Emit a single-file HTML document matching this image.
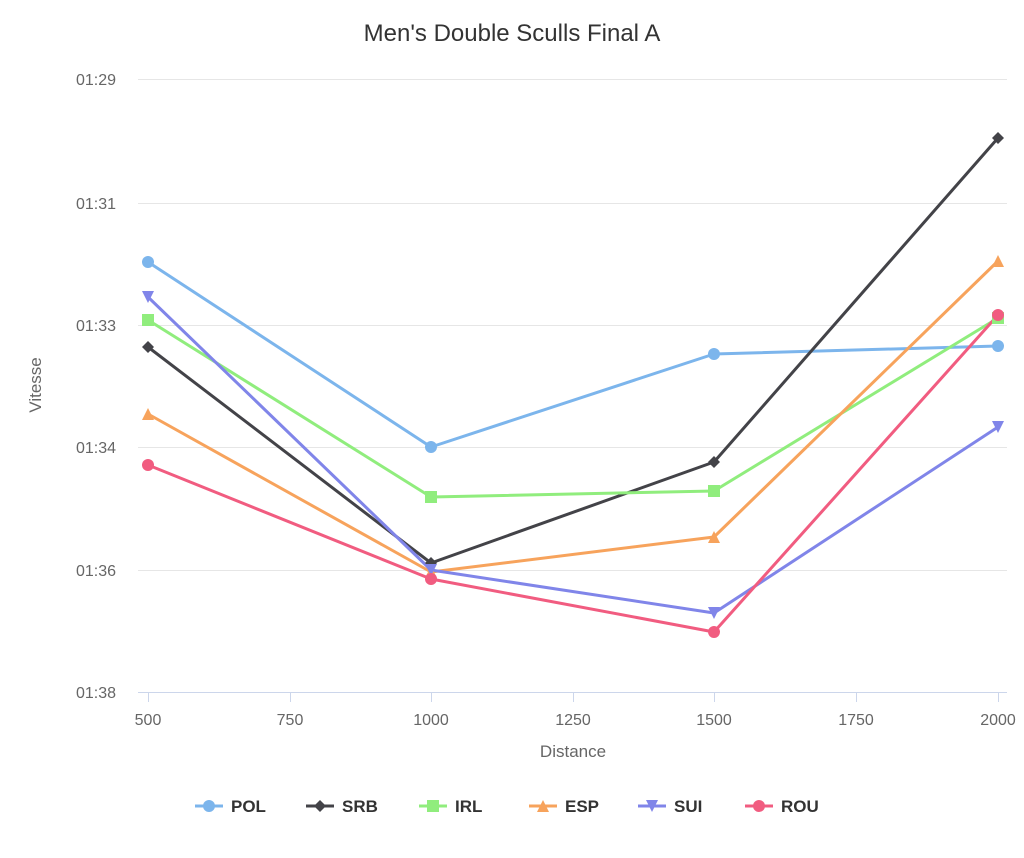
<!DOCTYPE html>
<html><head><meta charset="utf-8"><style>
html,body{margin:0;padding:0;background:#fff;}
text{font-family:"Liberation Sans","DejaVu Sans",sans-serif;}
</style></head><body>
<svg width="1024" height="853" xmlns="http://www.w3.org/2000/svg">
<rect width="1024" height="853" fill="#fff"/>
<text x="512" y="41" text-anchor="middle" font-size="24" fill="#333">Men's Double Sculls Final A</text>
<g stroke="#e6e6e6" stroke-width="1">
<line x1="138" x2="1007" y1="79.5" y2="79.5"/>
<line x1="138" x2="1007" y1="203.5" y2="203.5"/>
<line x1="138" x2="1007" y1="325.5" y2="325.5"/>
<line x1="138" x2="1007" y1="447.5" y2="447.5"/>
<line x1="138" x2="1007" y1="570.5" y2="570.5"/>
</g>
<line x1="138" x2="1007" y1="692.5" y2="692.5" stroke="#ccd6eb"/>
<g stroke="#ccd6eb">
<line x1="148.5" x2="148.5" y1="692" y2="702"/><line x1="290.5" x2="290.5" y1="692" y2="702"/>
<line x1="431.5" x2="431.5" y1="692" y2="702"/><line x1="573.5" x2="573.5" y1="692" y2="702"/>
<line x1="714.5" x2="714.5" y1="692" y2="702"/><line x1="856.5" x2="856.5" y1="692" y2="702"/>
<line x1="998.5" x2="998.5" y1="692" y2="702"/>
</g>
<g font-size="16" fill="#666" text-anchor="end">
<text x="116" y="85">01:29</text><text x="116" y="209">01:31</text><text x="116" y="331">01:33</text>
<text x="116" y="453">01:34</text><text x="116" y="576">01:36</text><text x="116" y="698">01:38</text>
</g>
<g font-size="16" fill="#666" text-anchor="middle">
<text x="148" y="725">500</text><text x="290" y="725">750</text><text x="431" y="725">1000</text>
<text x="573" y="725">1250</text><text x="714" y="725">1500</text><text x="856" y="725">1750</text><text x="998" y="725">2000</text>
</g>
<text x="573" y="757" text-anchor="middle" font-size="17" fill="#666">Distance</text>
<text transform="translate(41,385) rotate(-90)" text-anchor="middle" font-size="17" fill="#666">Vitesse</text>
<g fill="none" stroke-width="3" stroke-linejoin="round">
<polyline stroke="#7cb5ec" points="148,262 431,447 714,354 998,346"/>
<polyline stroke="#434348" points="148,347 431,563 714,462 998,138"/>
<polyline stroke="#90ed7d" points="148,320 431,497 714,491 998,318"/>
<polyline stroke="#f7a35c" points="148,414 431,572 714,537 998,261"/>
<polyline stroke="#8085e9" points="148,297 431,570 714,613 998,427"/>
<polyline stroke="#f15c80" points="148,465 431,579 714,632 998,315"/>
</g>
<g fill="#7cb5ec"><circle cx="148" cy="262" r="6"/><circle cx="431" cy="447" r="6"/><circle cx="714" cy="354" r="6"/><circle cx="998" cy="346" r="6"/></g>
<g fill="#434348"><path d="M148 341l6 6-6 6-6-6z"/><path d="M431 557l6 6-6 6-6-6z"/><path d="M714 456l6 6-6 6-6-6z"/><path d="M998 132l6 6-6 6-6-6z"/></g>
<g fill="#90ed7d"><rect x="142" y="314" width="12" height="12"/><rect x="425" y="491" width="12" height="12"/><rect x="708" y="485" width="12" height="12"/><rect x="992" y="312" width="12" height="12"/></g>
<g fill="#f7a35c"><path d="M148 408l6 12h-12z"/><path d="M431 566l6 12h-12z"/><path d="M714 531l6 12h-12z"/><path d="M998 255l6 12h-12z"/></g>
<g fill="#8085e9"><path d="M142 291h12l-6 12z"/><path d="M425 564h12l-6 12z"/><path d="M708 607h12l-6 12z"/><path d="M992 421h12l-6 12z"/></g>
<g fill="#f15c80"><circle cx="148" cy="465" r="6"/><circle cx="431" cy="579" r="6"/><circle cx="714" cy="632" r="6"/><circle cx="998" cy="315" r="6"/></g>
<g font-size="17" font-weight="bold" fill="#333" stroke-width="3">
<line x1="195" x2="223" y1="806" y2="806" stroke="#7cb5ec"/><circle cx="209" cy="806" r="6" fill="#7cb5ec"/><text x="231" y="812">POL</text>
<line x1="306" x2="334" y1="806" y2="806" stroke="#434348"/><path d="M320 800l6 6-6 6-6-6z" fill="#434348"/><text x="342" y="812">SRB</text>
<line x1="419" x2="447" y1="806" y2="806" stroke="#90ed7d"/><rect x="427" y="800" width="12" height="12" fill="#90ed7d"/><text x="455" y="812">IRL</text>
<line x1="529" x2="557" y1="806" y2="806" stroke="#f7a35c"/><path d="M543 800l6 12h-12z" fill="#f7a35c"/><text x="565" y="812">ESP</text>
<line x1="638" x2="666" y1="806" y2="806" stroke="#8085e9"/><path d="M646 800h12l-6 12z" fill="#8085e9"/><text x="674" y="812">SUI</text>
<line x1="745" x2="773" y1="806" y2="806" stroke="#f15c80"/><circle cx="759" cy="806" r="6" fill="#f15c80"/><text x="781" y="812">ROU</text>
</g>
</svg>
</body></html>
